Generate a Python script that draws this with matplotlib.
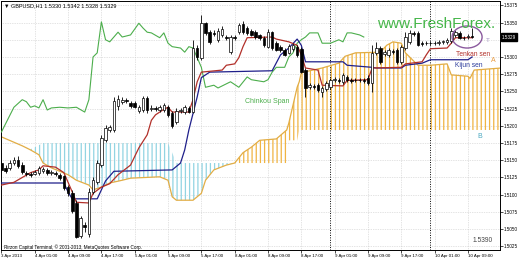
import numpy as np
import matplotlib

matplotlib.use("Agg")
import matplotlib.pyplot as plt
from matplotlib.patches import Ellipse

plt.rcParams["font.family"] = ["Liberation Sans", "DejaVu Sans"]
plt.rcParams["hatch.linewidth"] = 0.9

# GBPUSD H1 candles, bar 0 = 3 Apr 17:00
opens = [1.5146, 1.5139, 1.5139, 1.5146, 1.5150, 1.5143, 1.5132, 1.5130, 1.5130, 1.5132,
         1.5134, 1.5136, 1.5132, 1.5132, 1.5129, 1.5127, 1.5111, 1.5102, 1.5088, 1.5040,
         1.5056, 1.5043, 1.5104, 1.5118, 1.5143, 1.5179, 1.5194, 1.5194, 1.5229, 1.5235,
         1.5238, 1.5233, 1.5233, 1.5222, 1.5223, 1.5240, 1.5224, 1.5226, 1.5223, 1.5223,
         1.5227, 1.5219, 1.5206, 1.5222, 1.5220, 1.5226, 1.5220, 1.5313, 1.5299, 1.5349,
         1.5336, 1.5335, 1.5325, 1.5332, 1.5329, 1.5307, 1.5329, 1.5336, 1.5348, 1.5342,
         1.5338, 1.5336, 1.5332, 1.5328, 1.5314, 1.5336, 1.5320, 1.5314, 1.5310, 1.5306,
         1.5312, 1.5314, 1.5312, 1.5281, 1.5257, 1.5258, 1.5259, 1.5249, 1.5254, 1.5256,
         1.5267, 1.5267, 1.5264, 1.5271, 1.5267, 1.5267, 1.5266, 1.5267, 1.5270, 1.5262,
         1.5306, 1.5313, 1.5304, 1.5303, 1.5309, 1.5310, 1.5293, 1.5313, 1.5322, 1.5335,
         1.5335, 1.5320, 1.5320, 1.5321, 1.5320, 1.5320, 1.5322, 1.5322, 1.5323, 1.5332,
         1.5335, 1.5328, 1.5329, 1.5330]
highs = [1.5150, 1.5143, 1.5150, 1.5155, 1.5156, 1.5148, 1.5134, 1.5133, 1.5136, 1.5142,
         1.5140, 1.5139, 1.5136, 1.5134, 1.5132, 1.5129, 1.5114, 1.5107, 1.5092, 1.5069,
         1.5060, 1.5110, 1.5126, 1.5150, 1.5187, 1.5201, 1.5201, 1.5242, 1.5245, 1.5242,
         1.5240, 1.5236, 1.5236, 1.5230, 1.5243, 1.5243, 1.5230, 1.5229, 1.5230, 1.5233,
         1.5230, 1.5222, 1.5226, 1.5226, 1.5230, 1.5229, 1.5325, 1.5317, 1.5361, 1.5351,
         1.5339, 1.5339, 1.5342, 1.5345, 1.5332, 1.5332, 1.5332, 1.5349, 1.5352, 1.5345,
         1.5341, 1.5339, 1.5333, 1.5330, 1.5341, 1.5338, 1.5323, 1.5317, 1.5313, 1.5319,
         1.5320, 1.5317, 1.5314, 1.5284, 1.5262, 1.5261, 1.5262, 1.5258, 1.5265, 1.5270,
         1.5271, 1.5270, 1.5277, 1.5274, 1.5270, 1.5270, 1.5270, 1.5270, 1.5274, 1.5317,
         1.5322, 1.5316, 1.5310, 1.5313, 1.5312, 1.5313, 1.5317, 1.5336, 1.5339, 1.5338,
         1.5338, 1.5323, 1.5323, 1.5323, 1.5323, 1.5325, 1.5325, 1.5328, 1.5342, 1.5339,
         1.5338, 1.5330, 1.5333, 1.5342]
lows = [1.5133, 1.5132, 1.5136, 1.5143, 1.5139, 1.5130, 1.5127, 1.5126, 1.5129, 1.5129,
        1.5132, 1.5129, 1.5129, 1.5127, 1.5121, 1.5107, 1.5098, 1.5073, 1.5037, 1.5037,
        1.5046, 1.5039, 1.5101, 1.5116, 1.5140, 1.5177, 1.5191, 1.5191, 1.5223, 1.5232,
        1.5233, 1.5226, 1.5226, 1.5219, 1.5220, 1.5219, 1.5222, 1.5222, 1.5220, 1.5220,
        1.5213, 1.5197, 1.5203, 1.5219, 1.5217, 1.5219, 1.5219, 1.5296, 1.5296, 1.5332,
        1.5319, 1.5331, 1.5322, 1.5329, 1.5325, 1.5304, 1.5325, 1.5333, 1.5333, 1.5332,
        1.5330, 1.5326, 1.5325, 1.5314, 1.5313, 1.5310, 1.5309, 1.5307, 1.5301, 1.5304,
        1.5309, 1.5300, 1.5277, 1.5242, 1.5254, 1.5254, 1.5249, 1.5242, 1.5251, 1.5254,
        1.5264, 1.5262, 1.5261, 1.5264, 1.5262, 1.5264, 1.5264, 1.5262, 1.5259, 1.5249,
        1.5303, 1.5290, 1.5301, 1.5300, 1.5304, 1.5290, 1.5290, 1.5310, 1.5319, 1.5330,
        1.5316, 1.5316, 1.5317, 1.5317, 1.5317, 1.5317, 1.5319, 1.5319, 1.5320, 1.5329,
        1.5326, 1.5325, 1.5326, 1.5328]
closes = [1.5136, 1.5134, 1.5146, 1.5150, 1.5142, 1.5133, 1.5130, 1.5129, 1.5133, 1.5139,
          1.5137, 1.5132, 1.5133, 1.5130, 1.5124, 1.5110, 1.5102, 1.5076, 1.5039, 1.5066,
          1.5053, 1.5104, 1.5121, 1.5146, 1.5182, 1.5197, 1.5198, 1.5236, 1.5239, 1.5238,
          1.5236, 1.5229, 1.5227, 1.5227, 1.5240, 1.5223, 1.5226, 1.5224, 1.5227, 1.5230,
          1.5216, 1.5200, 1.5222, 1.5223, 1.5227, 1.5220, 1.5313, 1.5300, 1.5349, 1.5335,
          1.5322, 1.5333, 1.5338, 1.5341, 1.5328, 1.5329, 1.5328, 1.5346, 1.5336, 1.5335,
          1.5332, 1.5329, 1.5328, 1.5317, 1.5336, 1.5313, 1.5310, 1.5310, 1.5303, 1.5316,
          1.5317, 1.5303, 1.5278, 1.5255, 1.5259, 1.5256, 1.5252, 1.5255, 1.5262, 1.5267,
          1.5268, 1.5265, 1.5274, 1.5267, 1.5265, 1.5266, 1.5267, 1.5265, 1.5262, 1.5306,
          1.5313, 1.5293, 1.5307, 1.5310, 1.5307, 1.5293, 1.5314, 1.5329, 1.5335, 1.5333,
          1.5317, 1.5319, 1.5321, 1.5320, 1.5321, 1.5322, 1.5323, 1.5325, 1.5338, 1.5336,
          1.5328, 1.5327, 1.5330, 1.5329]

tenkan_bar = [0, 3, 7, 9, 10, 13, 15, 16, 17, 18, 21, 22, 24, 26, 28, 31, 33, 35, 36, 37,
              39, 40, 41, 45, 46, 47, 48, 53, 54, 56, 57, 58, 59, 65, 66, 69, 71, 72, 73, 76,
              77, 82, 83, 88, 89, 96, 97, 101, 102, 103, 107, 108, 109, 113]
tenkan_val = [1.5114, 1.5118, 1.5132, 1.5136, 1.5142, 1.5140, 1.5132, 1.5118, 1.5104, 1.5089,
              1.5088, 1.5102, 1.5111, 1.5116, 1.5129, 1.5143, 1.5168, 1.5187, 1.5208, 1.5216,
              1.5224, 1.5227, 1.5220, 1.5220, 1.5238, 1.5264, 1.5278, 1.5281, 1.5288, 1.5290,
              1.5299, 1.5315, 1.5328, 1.5329, 1.5326, 1.5322, 1.5317, 1.5303, 1.5284, 1.5281,
              1.5259, 1.5258, 1.5266, 1.5267, 1.5284, 1.5285, 1.5290, 1.5293, 1.5303, 1.5312,
              1.5313, 1.5320, 1.5328, 1.5328]

kijun_bar = [0, 15, 16, 17, 23, 24, 25, 27, 41, 43, 44, 45, 47, 48, 50, 65, 67, 69, 71, 72,
             73, 82, 83, 89, 90, 96, 97, 101, 103, 112, 113]
kijun_val = [1.5117, 1.5117, 1.5104, 1.5094, 1.5094, 1.5107, 1.5120, 1.5134, 1.5136, 1.5146,
             1.5165, 1.5194, 1.5242, 1.5270, 1.5278, 1.5280, 1.5303, 1.5313, 1.5326, 1.5317,
             1.5293, 1.5293, 1.5288, 1.5285, 1.5284, 1.5284, 1.5288, 1.5291, 1.5296, 1.5296,
             1.5300]

chikou_bar = [0, 3, 5, 6, 7, 8, 9, 10, 11, 12, 14, 16, 18, 20, 21, 22, 23, 24, 25, 26,
              28, 29, 31, 33, 34, 35, 36, 38, 39, 40, 41, 43, 44, 45, 46, 47, 48, 49, 51, 52,
              55, 57, 59, 60, 63, 64, 65, 66, 68, 69, 70, 71, 72, 73, 74, 76, 77, 79, 81, 82,
              83, 84, 86, 87]
chikou_val = [1.5191, 1.5227, 1.5238, 1.5235, 1.5227, 1.5229, 1.5226, 1.5238, 1.5223, 1.5226,
              1.5227, 1.5226, 1.5227, 1.5220, 1.5238, 1.5300, 1.5306, 1.5351, 1.5325, 1.5322,
              1.5336, 1.5329, 1.5332, 1.5349, 1.5342, 1.5336, 1.5335, 1.5328, 1.5335, 1.5320,
              1.5315, 1.5313, 1.5307, 1.5315, 1.5313, 1.5299, 1.5285, 1.5256, 1.5259, 1.5255,
              1.5264, 1.5256, 1.5271, 1.5267, 1.5264, 1.5267, 1.5278, 1.5285, 1.5285, 1.5300,
              1.5306, 1.5320, 1.5325, 1.5329, 1.5335, 1.5335, 1.5320, 1.5320, 1.5325, 1.5322,
              1.5335, 1.5335, 1.5332, 1.5329]

cloud_bar = [0, 5, 7, 9, 10, 12, 16, 18, 21, 22, 24, 26, 29, 31, 38, 40, 41, 42, 46, 48,
             49, 51, 54, 56, 58, 60, 62, 66, 68.5, 69, 70, 71, 71.5, 72, 74, 77, 81, 82.5, 85, 91,
             92.5, 94, 96, 97, 100, 103, 107, 108, 112, 112.5, 113.5, 120]
senkou_a = [1.5184, 1.5171, 1.5165, 1.5158, 1.5146, 1.5139, 1.5129, 1.5121, 1.5114, 1.5107,
            1.5111, 1.5117, 1.5121, 1.5124, 1.5126, 1.5121, 1.5097, 1.5092, 1.5092, 1.5102,
            1.5121, 1.5136, 1.5143, 1.5146, 1.5161, 1.5169, 1.5179, 1.5181, 1.5194, 1.5204,
            1.5230, 1.5256, 1.5264, 1.5277, 1.5280, 1.5284, 1.5291, 1.5301, 1.5306, 1.5307,
            1.5317, 1.5322, 1.5320, 1.5306, 1.5288, 1.5288, 1.5290, 1.5274, 1.5272, 1.5269,
            1.5281, 1.5284]
senkou_b = [1.5184, 1.5171, 1.5166, 1.5172, 1.5175, 1.5175, 1.5175, 1.5175, 1.5175, 1.5175,
            1.5175, 1.5175, 1.5175, 1.5175, 1.5175, 1.5175, 1.5161, 1.5146, 1.5146, 1.5146,
            1.5146, 1.5146, 1.5146, 1.5146, 1.5146, 1.5146, 1.5146, 1.5146, 1.5146, 1.5179,
            1.5179, 1.5179, 1.5194, 1.5194, 1.5194, 1.5194, 1.5194, 1.5194, 1.5194, 1.5194,
            1.5194, 1.5194, 1.5194, 1.5194, 1.5194, 1.5194, 1.5194, 1.5194, 1.5194, 1.5194,
            1.5194, 1.5194]

time_tick_bar = [0, 8, 16, 24, 32, 40, 48, 56, 64, 72, 80, 88, 96, 104, 112]
time_labels = ["3 Apr 2013", "4 Apr 01:00", "4 Apr 09:00", "4 Apr 17:00", "5 Apr 01:00",
               "5 Apr 09:00", "5 Apr 17:00", "8 Apr 01:00", "8 Apr 09:00", "8 Apr 17:00",
               "9 Apr 01:00", "9 Apr 09:00", "9 Apr 17:00", "10 Apr 01:00", "10 Apr 09:00"]
price_ticks = [1.5025, 1.5050, 1.5075, 1.5100, 1.5125, 1.5150, 1.5175, 1.5200,
               1.5225, 1.5250, 1.5275, 1.5300, 1.5325, 1.5350, 1.5375]
separator_bar = [79, 103]
last_price = 1.5329

fig = plt.figure(figsize=(5.2, 2.6), dpi=100)
ax = fig.add_axes([1 / 520, 10 / 260, 499 / 520, 249 / 260])
ax.set_xlim(-0.1, 119.7)
ax.set_ylim(1.50197, 1.53813)

# kumo hatching
a = np.array(senkou_a)
b = np.array(senkou_b)
ax.fill_between(cloud_bar, a, b, where=a >= b, interpolate=True, facecolor="none",
                edgecolor="#f0b443", hatch="||||", linewidth=0, zorder=1)
ax.fill_between(cloud_bar, a, b, where=a <= b, interpolate=True, facecolor="none",
                edgecolor="#92d4e2", hatch="||||", linewidth=0, zorder=1)
ax.plot(cloud_bar, senkou_a, color="#e2ad45", lw=0.9, zorder=2)

ax.plot(chikou_bar, chikou_val, color="#4cae4c", lw=0.8, zorder=3)
ax.plot(kijun_bar, kijun_val, color="#1f1f8a", lw=0.9, zorder=3)
ax.plot(tenkan_bar, tenkan_val, color="#b2302a", lw=0.9, zorder=3)

for sb in separator_bar:
    ax.axvline(sb, color="black", lw=0.7, linestyle=(0, (1, 1.5)), zorder=1)

# candles
o = np.array(opens)
c = np.array(closes)
xs = np.arange(len(opens))
ax.vlines(xs, lows, highs, color="black", lw=0.6, zorder=4)
body = np.maximum(np.abs(c - o), 0.00003)
faces = ["white" if cc >= oo else "black" for oo, cc in zip(o, c)]
ax.bar(xs, body, width=0.62, bottom=np.minimum(o, c), color=faces,
       edgecolor="black", linewidth=0.5, zorder=5)

ax.add_patch(Ellipse((111.8, 1.5329), width=7.2, height=0.0032, fill=False,
                     edgecolor="#8b5a9e", lw=1.0, zorder=6))

# axes styling
ax.grid(True, color="#c8c8c8", linestyle=(0, (1, 1.5)), linewidth=0.5)
ax.set_axisbelow(True)
ax.set_xticks(time_tick_bar)
ax.set_xticklabels(time_labels, ha="left")
ax.yaxis.tick_right()
ax.set_yticks(price_ticks)
ax.set_yticklabels(["" if abs(p - 1.5325) < 1e-6 else f"{p:.4f}" for p in price_ticks])
ax.tick_params(axis="x", labelsize=3.2, length=2, width=0.5, pad=1)
ax.tick_params(axis="y", labelsize=3.3, length=2, width=0.5, pad=1)
for s in ax.spines.values():
    s.set_linewidth(0.7)
    s.set_color("black")

ax.text(1.004, last_price, f"{last_price:.4f}", transform=ax.get_yaxis_transform(),
        ha="left", va="center", fontsize=3.3, color="white", clip_on=False,
        bbox=dict(boxstyle="square,pad=0.25", fc="black", ec="black"))

ax.text(0.006, 0.98, "\u25bc GBPUSD,H1 1.5330 1.5342 1.5328 1.5329", transform=ax.transAxes,
        ha="left", va="center", fontsize=4)
ax.text(0.754, 0.908, "www.FreshForex.", transform=ax.transAxes, ha="left", va="center",
        fontsize=11, color="#45b649", zorder=7)
ax.text(0.946, 0.787, "Tenkan sen", transform=ax.transAxes, ha="center", va="center",
        fontsize=4.8, color="#b2302a", zorder=7)
ax.text(0.938, 0.739, "Kijun sen", transform=ax.transAxes, ha="center", va="center",
        fontsize=4.8, color="#2a3a9a", zorder=7)
ax.text(0.534, 0.598, "Chinkou Span", transform=ax.transAxes, ha="center", va="center",
        fontsize=5, color="#4cae4c", zorder=7)
ax.text(0.986, 0.763, "A", transform=ax.transAxes, ha="center", va="center",
        fontsize=5, color="#e89a40", zorder=7)
ax.text(0.96, 0.454, "B", transform=ax.transAxes, ha="center", va="center",
        fontsize=5, color="#4aa8c0", zorder=7)
ax.text(0.976, 0.843, "T", transform=ax.transAxes, ha="center", va="center",
        fontsize=4.5, color="#a090c0", zorder=7)
ax.text(0.966, 0.040, "1.5390", transform=ax.transAxes, ha="center", va="center",
        fontsize=4.8, color="#444444", zorder=7)
ax.text(0.006, 0.012, "Rirzon Capital Terminal, \u00a9 2001-2013, MetaQuotes Software Corp.",
        transform=ax.transAxes, ha="left", va="center", fontsize=3.3, zorder=7)

fig.savefig("out.png", dpi=100)
plt.close(fig)
